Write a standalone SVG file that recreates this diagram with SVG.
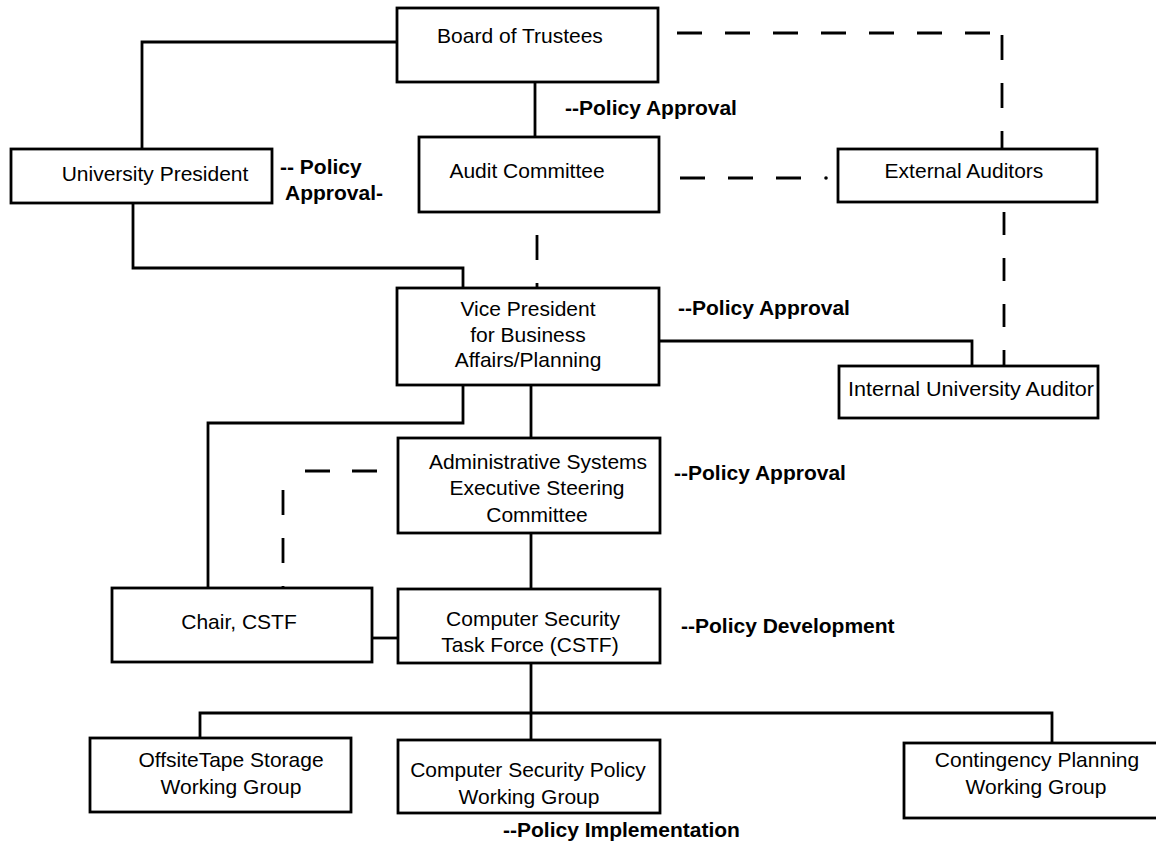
<svg xmlns="http://www.w3.org/2000/svg" width="1156" height="847" viewBox="0 0 1156 847">
<style>
.box{fill:#fff;stroke:#000;stroke-width:2.8}
.ln{fill:none;stroke:#000;stroke-width:2.8}
.dash{fill:none;stroke:#000;stroke-width:2.8;stroke-dasharray:25 23}
.t{font-family:"Liberation Sans",Arial,sans-serif;font-size:21px;fill:#000;text-anchor:middle}
.lb{font-family:"Liberation Sans",Arial,sans-serif;font-size:21px;font-weight:bold;fill:#000}
</style>
<rect width="1156" height="847" fill="#fff"/>
<g id="connectors">
<path class="ln" d="M397 42 H142 V149"/>
<path class="ln" d="M535 82 V137"/>
<path class="ln" d="M133 203 V268 H463 V288"/>
<path class="ln" d="M659 341 H972 V366"/>
<path class="ln" d="M463 385 V423 H208 V588"/>
<path class="ln" d="M531 385 V438"/>
<path class="ln" d="M531 533 V589"/>
<path class="ln" d="M372 638 H398"/>
<path class="ln" d="M531 663 V713"/>
<path class="ln" d="M200 738 V713 H1052 V743"/>
<path class="ln" d="M531 713 V740"/>
<path class="dash" d="M677 33 H990"/>
<path class="dash" d="M1002 35 V149"/>
<path class="dash" d="M680 178 H804"/>
<circle cx="826" cy="178" r="1.8" fill="#000"/>
<path class="dash" d="M1004 212 V366" style="stroke-dasharray:23 23"/>
<path class="dash" d="M537 235 V288"/>
<path class="dash" d="M377 471 H305" style="stroke-dasharray:25 22"/>
<path class="dash" d="M283 490 V588"/>
</g>
<g id="board"><rect class="box" x="397" y="8" width="261" height="74"/><text class="t" x="520" y="43">Board of Trustees</text></g>
<g id="audit"><rect class="box" x="419" y="137" width="240" height="75"/><text class="t" x="527" y="178">Audit Committee</text></g>
<g id="president"><rect class="box" x="11" y="149" width="261" height="54"/><text class="t" x="155" y="181">University President</text></g>
<g id="external"><rect class="box" x="838" y="149" width="259" height="53"/><text class="t" x="964" y="178">External Auditors</text></g>
<g id="vp"><rect class="box" x="397" y="288" width="262" height="97"/><text class="t" x="528" y="316">Vice President</text><text class="t" x="528" y="342">for Business</text><text class="t" x="528" y="367">Affairs/Planning</text></g>
<g id="internal"><rect class="box" x="839" y="366" width="259" height="52"/><text class="t" x="971" y="396" textLength="246" lengthAdjust="spacingAndGlyphs">Internal University Auditor</text></g>
<g id="steering"><rect class="box" x="398" y="438" width="262" height="95"/><text class="t" x="538" y="469">Administrative Systems</text><text class="t" x="537" y="495">Executive Steering</text><text class="t" x="537" y="522">Committee</text></g>
<g id="chair"><rect class="box" x="112" y="588" width="260" height="74"/><text class="t" x="239" y="629">Chair, CSTF</text></g>
<g id="cstf"><rect class="box" x="398" y="589" width="262" height="74"/><text class="t" x="533" y="626">Computer Security</text><text class="t" x="530" y="652">Task Force (CSTF)</text></g>
<g id="offsite"><rect class="box" x="90" y="738" width="261" height="74"/><text class="t" x="231" y="767">OffsiteTape Storage</text><text class="t" x="231" y="794">Working Group</text></g>
<g id="policywg"><rect class="box" x="398" y="740" width="262" height="73"/><text class="t" x="528" y="777">Computer Security Policy</text><text class="t" x="529" y="804">Working Group</text></g>
<g id="contingency"><rect class="box" x="904" y="743" width="256" height="75"/><text class="t" x="1037" y="767">Contingency Planning</text><text class="t" x="1036" y="794">Working Group</text></g>
<g id="labels">
<text class="lb" x="565" y="115">--Policy Approval</text>
<text class="lb" x="280" y="174">-- Policy</text>
<text class="lb" x="285" y="200">Approval-</text>
<text class="lb" x="678" y="315">--Policy Approval</text>
<text class="lb" x="674" y="480">--Policy Approval</text>
<text class="lb" x="681" y="633">--Policy Development</text>
<text class="lb" x="503" y="837">--Policy Implementation</text>
</g>
</svg>
